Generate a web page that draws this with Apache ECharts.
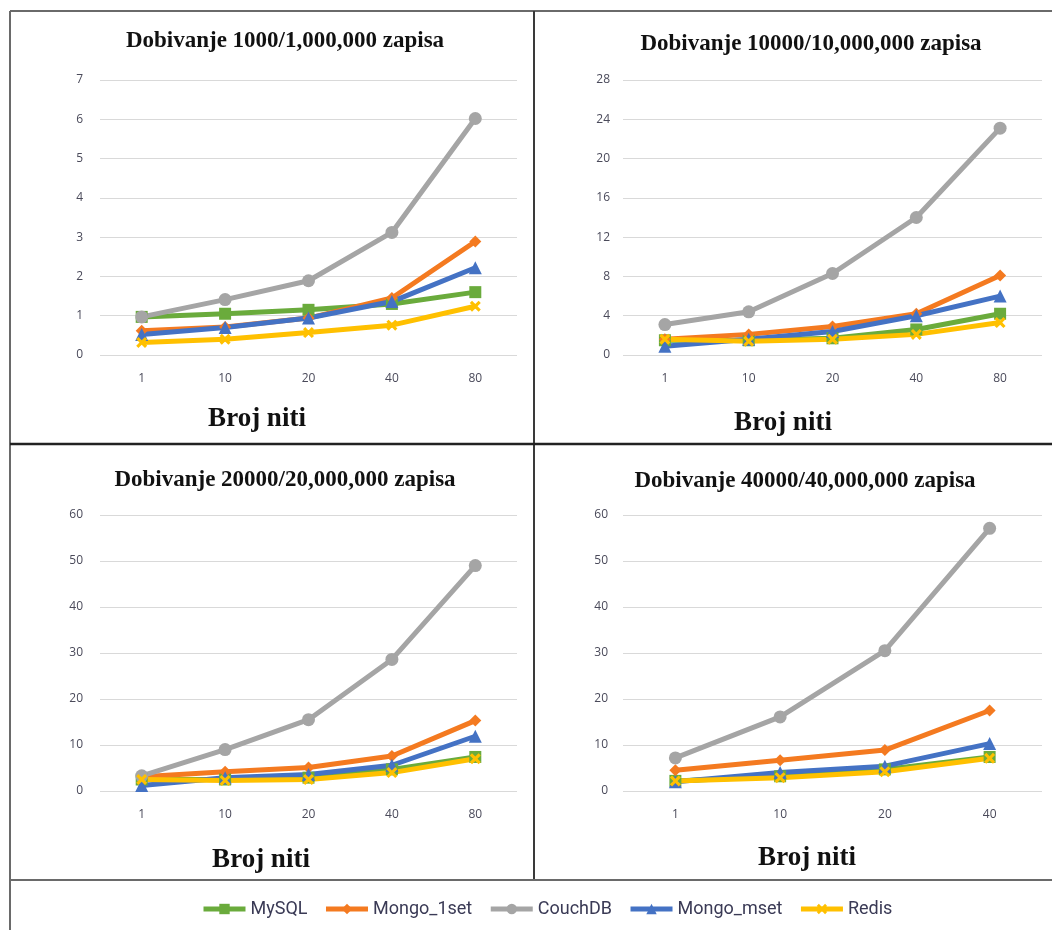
<!DOCTYPE html>
<html>
<head>
<meta charset="utf-8">
<script src="https://cdn.jsdelivr.net/npm/echarts@6/dist/echarts.min.js"></script>
<style>
html,body{margin:0;padding:0;background:#fff;}
#chart{width:1052px;height:930px;}
</style>
</head>
<body>
<div id="chart"></div>
<script>
// ---- data ----
const seriesNames = ['MySQL', 'Mongo_1set', 'CouchDB', 'Mongo_mset', 'Redis'];
const categories5 = ['1', '10', '20', '40', '80'];
const categories4 = ['1', '10', '20', '40'];
const panelTitles = [
  'Dobivanje 1000/1,000,000 zapisa',
  'Dobivanje 10000/10,000,000 zapisa',
  'Dobivanje 20000/20,000,000 zapisa',
  'Dobivanje 40000/40,000,000 zapisa'
];
const xAxisTitle = 'Broj niti';

// Panel 1 (1000/1,000,000)
const p1MySQL     = [0.97, 1.05, 1.15, 1.30, 1.60];
const p1Mongo1set = [0.62, 0.71, 0.94, 1.45, 2.89];
const p1CouchDB   = [0.97, 1.41, 1.89, 3.12, 6.02];
const p1MongoMset = [0.52, 0.70, 0.94, 1.36, 2.22];
const p1Redis     = [0.32, 0.40, 0.57, 0.76, 1.24];

// Panel 2 (10000/10,000,000)
const p2MySQL     = [1.5, 1.5, 1.7, 2.6, 4.2];
const p2Mongo1set = [1.6, 2.1, 2.9, 4.2, 8.1];
const p2CouchDB   = [3.1, 4.4, 8.3, 14.0, 23.1];
const p2MongoMset = [0.9, 1.6, 2.4, 4.0, 6.0];
const p2Redis     = [1.6, 1.4, 1.6, 2.1, 3.3];

// Panel 3 (20000/20,000,000)
const p3MySQL     = [2.5, 2.5, 2.9, 4.7, 7.4];
const p3Mongo1set = [3.1, 4.2, 5.1, 7.6, 15.3];
const p3CouchDB   = [3.3, 9.0, 15.5, 28.6, 49.0];
const p3MongoMset = [1.2, 2.9, 3.6, 5.6, 11.9];
const p3Redis     = [2.5, 2.3, 2.5, 4.0, 7.0];

// Panel 4 (40000/40,000,000)
const p4MySQL     = [2.2, 3.2, 4.7, 7.4];
const p4Mongo1set = [4.5, 6.7, 8.9, 17.5];
const p4CouchDB   = [7.2, 16.1, 30.5, 57.1];
const p4MongoMset = [2.0, 4.0, 5.4, 10.3];
const p4Redis     = [2.2, 2.9, 4.2, 7.1];

// y-axis tick settings per panel
const yMax = [7, 28, 60, 60];
const yInterval = [1, 4, 10, 10];

// ---- styles ----
const colors = ['#6aab3c', '#f47a20', '#a5a5a5', '#4472c4', '#ffc000'];
const starPath = 'path://M2,0 L5,3 L8,0 L10,2 L7,5 L10,8 L8,10 L5,7 L2,10 L0,8 L3,5 L0,2 Z';
const symbols = ['rect', 'diamond', 'circle', 'triangle', starPath];
const symbolSizes = [12, 12, 13, 13, 11];

const panels = [
  {cats: categories5, data: [p1MySQL, p1Mongo1set, p1CouchDB, p1MongoMset, p1Redis]},
  {cats: categories5, data: [p2MySQL, p2Mongo1set, p2CouchDB, p2MongoMset, p2Redis]},
  {cats: categories5, data: [p3MySQL, p3Mongo1set, p3CouchDB, p3MongoMset, p3Redis]},
  {cats: categories4, data: [p4MySQL, p4Mongo1set, p4CouchDB, p4MongoMset, p4Redis]}
];

const grids = [
  {left: 100, top: 80, width: 417, height: 275},
  {left: 623, top: 80, width: 419, height: 275},
  {left: 100, top: 515, width: 417, height: 276},
  {left: 623, top: 515, width: 419, height: 276}
];
const yLabelMargin = [17, 13, 17, 15];

const titlePos = [
  {x: 280, y: 25}, {x: 806, y: 28}, {x: 280, y: 464}, {x: 800, y: 465}
];
const xNamePos = [
  {x: 252, y: 401}, {x: 778, y: 405}, {x: 256, y: 842}, {x: 802, y: 840}
];

const titles = [];
panelTitles.forEach((t, i) => {
  titles.push({
    text: t, left: titlePos[i].x, top: titlePos[i].y, textAlign: 'center',
    textStyle: {fontFamily: 'Liberation Serif', fontWeight: 'bold', fontSize: 23, color: '#111'}
  });
  titles.push({
    text: xAxisTitle, left: xNamePos[i].x, top: xNamePos[i].y, textAlign: 'center',
    textStyle: {fontFamily: 'Liberation Serif', fontWeight: 'bold', fontSize: 27, color: '#111'}
  });
});

const xAxes = panels.map((p, i) => ({
  type: 'category', gridIndex: i, data: p.cats, boundaryGap: true,
  axisLine: {show: false}, axisTick: {show: false},
  axisLabel: {color: '#4a4a5a', fontSize: 12, margin: 18, fontFamily: 'Open Sans'}
}));
const yAxes = panels.map((p, i) => ({
  type: 'value', gridIndex: i, min: 0, max: yMax[i], interval: yInterval[i],
  axisLine: {show: false}, axisTick: {show: false},
  axisLabel: {color: '#4a4a5a', fontSize: 12, margin: yLabelMargin[i], fontFamily: 'Open Sans'},
  splitLine: {lineStyle: {color: '#d9d9d9', width: 1}}
}));

const series = [];
panels.forEach((p, i) => {
  p.data.forEach((vals, s) => {
    series.push({
      name: seriesNames[s], type: 'line', xAxisIndex: i, yAxisIndex: i,
      data: vals, symbol: symbols[s], symbolSize: symbolSizes[s],
      lineStyle: {color: colors[s], width: 5},
      itemStyle: {color: colors[s]},
      showSymbol: true, animation: false
    });
  });
});

const lineStyleDark = {stroke: '#3a3a3a', lineWidth: 2};
const lineStyleGray = {stroke: '#6a6a6a', lineWidth: 2};
const graphic = [
  {type: 'line', shape: {x1: 10, y1: 11, x2: 1052, y2: 11}, style: lineStyleGray},
  {type: 'line', shape: {x1: 10, y1: 11, x2: 10, y2: 930}, style: lineStyleGray},
  {type: 'line', shape: {x1: 534, y1: 11, x2: 534, y2: 880}, style: lineStyleDark},
  {type: 'line', shape: {x1: 10, y1: 444, x2: 1052, y2: 444}, style: {stroke: '#222', lineWidth: 2.5}},
  {type: 'line', shape: {x1: 10, y1: 880, x2: 1052, y2: 880}, style: lineStyleGray}
];

const chart = echarts.init(document.getElementById('chart'));
chart.setOption({
  backgroundColor: '#fff',
  animation: false,
  title: titles,
  grid: grids,
  xAxis: xAxes,
  yAxis: yAxes,
  legend: {
    data: seriesNames, left: 196, top: 895, itemGap: 16,
    itemWidth: 42, itemHeight: 13,
    lineStyle: {width: 5},
    textStyle: {fontFamily: 'Roboto, sans-serif', fontSize: 18, color: '#3a3a55'}
  },
  graphic: graphic,
  series: series
});
</script>
</body>
</html>
